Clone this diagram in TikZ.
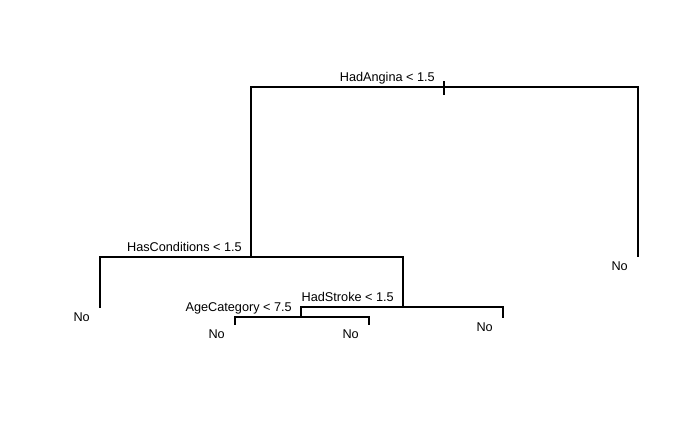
\documentclass[tikz,border=0pt]{standalone}
\usepackage{fontspec}
\setmainfont{Liberation Sans}
\begin{document}
\begin{tikzpicture}[x=1pt,y=-1pt,
  edge/.style={line width=1.05pt, line cap=rect},
  splitlabel/.style={anchor=base east, inner sep=0pt, font=\fontsize{12.7}{14}\selectfont, xshift=-9pt, yshift=5.5pt},
  leaflabel/.style={anchor=base east, inner sep=0pt, font=\fontsize{12.7}{14}\selectfont, xshift=-10pt, yshift=-14pt}]
\useasboundingbox (0,0) rectangle (700,432);
% tree node positions
\coordinate (n1) at (444,87);
\coordinate (n2) at (251,257);
\coordinate (n3) at (638,256);
\coordinate (n4) at (100,307);
\coordinate (n5) at (403,307);
\coordinate (n10) at (301,317);
\coordinate (n11) at (503,317);
\coordinate (n20) at (235,324);
\coordinate (n21) at (369,324);
% connectors
\draw[edge] (n1) -| (n2);
\draw[edge] (n1) -| (n3);
\draw[edge] (n2) -| (n4);
\draw[edge] (n2) -| (n5);
\draw[edge] (n5) -| (n10);
\draw[edge] (n5) -| (n11);
\draw[edge] (n10) -| (n20);
\draw[edge] (n10) -| (n21);
% tick at root
\draw[edge, line cap=butt] (n1) ++(0,-6) -- ++(0,14);
% split labels
\node[splitlabel] (l1) at (n1) {HadAngina < 1.5};
\node[splitlabel] (l2) at (n2) {HasConditions < 1.5};
\node[splitlabel] (l5) at (n5) {HadStroke < 1.5};
\node[splitlabel] (l10) at (n10) {AgeCategory < 7.5};
% leaf labels
\node[leaflabel] (f3) at (n3) {No};
\node[leaflabel] (f4) at (n4) {No};
\node[leaflabel] (f11) at (n11) {No};
\node[leaflabel] (f20) at (n20) {No};
\node[leaflabel] (f21) at (n21) {No};
\end{tikzpicture}
\end{document}
